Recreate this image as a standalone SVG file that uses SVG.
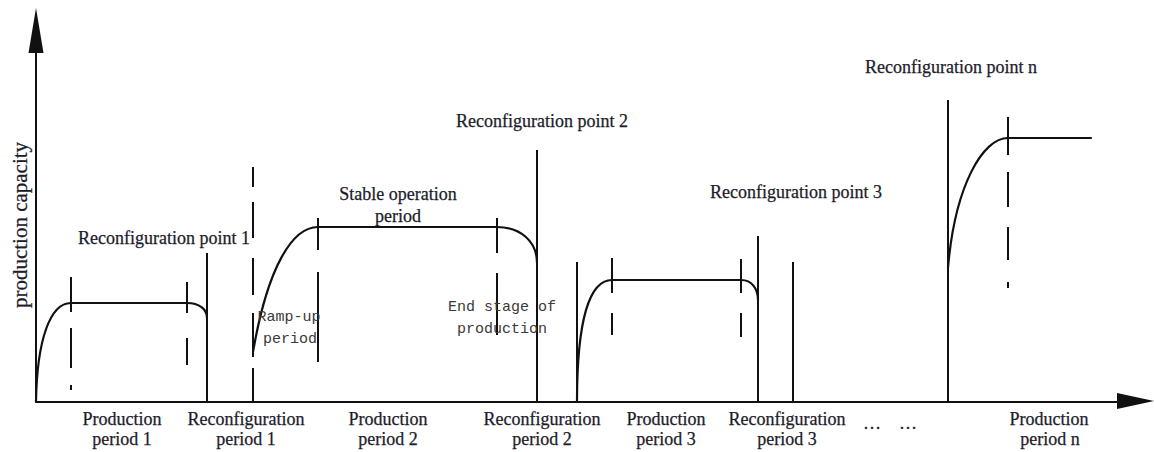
<svg xmlns="http://www.w3.org/2000/svg" width="1154" height="452" viewBox="0 0 1154 452">
  <style>
    .ln { fill: none; stroke: #111; stroke-width: 2; }
    .curve { fill: none; stroke: #111; stroke-width: 2.2; stroke-linecap: round; }
    .head { fill: #111; stroke: none; }
    .lbl { font-family: "Liberation Serif", "Times New Roman", serif; font-size: 18px; fill: #1c1c2a; stroke: #1c1c2a; stroke-width: 0.25; }
    .mid { text-anchor: middle; }
    .note { font-family: "Liberation Mono", "Courier New", monospace; font-size: 15px; fill: #3a3a3a; text-anchor: middle; }
  </style>

  <!-- axes -->
  <g id="axes">
    <line class="ln" x1="36" y1="402" x2="36" y2="48"/>
    <polygon class="head" points="36,8 28.5,53 43.5,53"/>
    <line class="ln" x1="36" y1="402" x2="1120" y2="402"/>
    <polygon class="head" points="1154,401 1117,393 1117,409"/>
    <text class="lbl mid" transform="translate(27,225) rotate(-90)" style="font-size:21px">production capacity</text>
  </g>

  <!-- connectors: capacity curves and boundary markers -->
  <g id="connectors">
    <!-- capacity curves -->
    <path class="curve" d="M36,402 C37,340 50,303 71,303 L187,303 C199,303 207,309 207,318"/>
    <path class="curve" d="M253,352 C268,265 293,227 318,227 L497,227 C520,227 537,241 537,263"/>
    <path class="curve" d="M577,402 C577,318 590,280 612,280 L741,280 C752,280 758,289 758,300"/>
    <path class="curve" d="M948,268 C955,185 983,138 1008,138 L1091,138"/>

    <!-- solid boundary lines -->
    <path class="ln" d="M207,253 V402 M537,150 V402 M577,262 V402 M758,236 V402 M793,262 V402 M948,100 V402"/>

    <!-- dashed stage markers -->
    <path class="ln" d="M71,277 V312 M71,328 V368 M71,385 V390
                        M187,282 V313 M187,338 V365
                        M253,167 V187 M253,202 V238 M253,258 V295 M253,313 V357 M253,368 V402
                        M318,218 V250 M318,272 V362
                        M497,218 V253 M497,273 V335
                        M612,258 V293 M612,313 V335
                        M741,259 V293 M741,313 V337
                        M1008,117 V155 M1008,172 V207 M1008,227 V260 M1008,282 V288"/>
  </g>

  <!-- reconfiguration point labels -->
  <g id="point-1"><text class="lbl" x="78" y="244">Reconfiguration point 1</text></g>
  <g id="point-2"><text class="lbl" x="456" y="127">Reconfiguration point 2</text></g>
  <g id="point-3"><text class="lbl" x="710" y="198">Reconfiguration point 3</text></g>
  <g id="point-n"><text class="lbl" x="865" y="73">Reconfiguration point n</text></g>

  <!-- stage annotations -->
  <g id="stable-stage">
    <text class="lbl mid" x="398" y="200">Stable operation</text>
    <text class="lbl mid" x="398" y="222">period</text>
  </g>
  <g id="ramp-up-stage">
    <text class="note" x="289" y="321">Ramp-up</text>
    <text class="note" x="290" y="343">period</text>
  </g>
  <g id="end-stage">
    <text class="note" x="502" y="311">End stage of</text>
    <text class="note" x="502" y="333">production</text>
  </g>

  <!-- period labels along the time axis -->
  <g id="production-period-1">
    <text class="lbl mid" x="122" y="425">Production</text>
    <text class="lbl mid" x="122" y="445">period 1</text>
  </g>
  <g id="reconfiguration-period-1">
    <text class="lbl mid" x="246" y="425">Reconfiguration</text>
    <text class="lbl mid" x="246" y="445">period 1</text>
  </g>
  <g id="production-period-2">
    <text class="lbl mid" x="388" y="425">Production</text>
    <text class="lbl mid" x="388" y="445">period 2</text>
  </g>
  <g id="reconfiguration-period-2">
    <text class="lbl mid" x="542" y="425">Reconfiguration</text>
    <text class="lbl mid" x="542" y="445">period 2</text>
  </g>
  <g id="production-period-3">
    <text class="lbl mid" x="666" y="425">Production</text>
    <text class="lbl mid" x="666" y="445">period 3</text>
  </g>
  <g id="reconfiguration-period-3">
    <text class="lbl mid" x="787" y="425">Reconfiguration</text>
    <text class="lbl mid" x="787" y="445">period 3</text>
  </g>
  <g id="ellipsis">
    <text class="lbl mid" x="872" y="429">…</text>
    <text class="lbl mid" x="908" y="429">…</text>
  </g>
  <g id="production-period-n">
    <text class="lbl mid" x="1049" y="425">Production</text>
    <text class="lbl mid" x="1050" y="445">period n</text>
  </g>
</svg>
